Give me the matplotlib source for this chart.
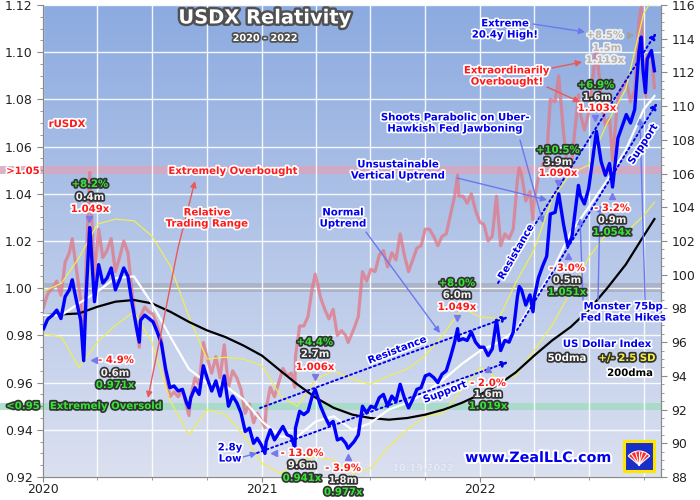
import matplotlib
matplotlib.use("Agg")
import matplotlib.pyplot as plt
import matplotlib.dates as mdates
import matplotlib.patheffects as pe
from matplotlib.patches import Rectangle, Wedge
from matplotlib.transforms import IdentityTransform
from matplotlib.ticker import MultipleLocator, FormatStrFormatter
import numpy as np
import pandas as pd

# USDX closes (weekly, plus a few key days)
usdxDates = [
    "2020-01-02", "2020-01-08", "2020-01-10", "2020-01-17", "2020-01-24", "2020-01-31",
    "2020-02-07", "2020-02-14", "2020-02-19", "2020-02-21", "2020-02-28",
    "2020-03-04", "2020-03-09", "2020-03-13", "2020-03-19", "2020-03-20", "2020-03-27",
    "2020-04-03", "2020-04-10", "2020-04-17", "2020-04-24",
    "2020-05-01", "2020-05-08", "2020-05-15", "2020-05-22", "2020-05-29",
    "2020-06-05", "2020-06-10", "2020-06-12", "2020-06-19", "2020-06-26",
    "2020-07-03", "2020-07-10", "2020-07-17", "2020-07-24", "2020-07-31",
    "2020-08-07", "2020-08-14", "2020-08-21", "2020-08-28",
    "2020-09-01", "2020-09-04", "2020-09-11", "2020-09-18", "2020-09-25",
    "2020-10-02", "2020-10-09", "2020-10-16", "2020-10-23", "2020-10-30",
    "2020-11-06", "2020-11-13", "2020-11-20", "2020-11-27",
    "2020-12-04", "2020-12-11", "2020-12-18", "2020-12-24", "2020-12-31",
    "2021-01-06", "2021-01-08", "2021-01-15", "2021-01-22", "2021-01-29",
    "2021-02-05", "2021-02-12", "2021-02-19", "2021-02-25", "2021-02-26",
    "2021-03-05", "2021-03-12", "2021-03-19", "2021-03-26", "2021-03-31",
    "2021-04-09", "2021-04-16", "2021-04-23", "2021-04-30",
    "2021-05-07", "2021-05-14", "2021-05-21", "2021-05-25",
    "2021-06-04", "2021-06-11", "2021-06-18", "2021-06-25",
    "2021-07-02", "2021-07-09", "2021-07-16", "2021-07-23", "2021-07-30",
    "2021-08-06", "2021-08-13", "2021-08-20", "2021-08-27",
    "2021-09-03", "2021-09-10", "2021-09-17", "2021-09-24",
    "2021-10-01", "2021-10-08", "2021-10-15", "2021-10-22", "2021-10-29",
    "2021-11-05", "2021-11-12", "2021-11-19", "2021-11-24", "2021-11-26",
    "2021-12-03", "2021-12-10", "2021-12-17", "2021-12-24", "2021-12-31",
    "2022-01-07", "2022-01-14", "2022-01-21", "2022-01-28",
    "2022-02-04", "2022-02-11", "2022-02-18", "2022-02-25",
    "2022-03-04", "2022-03-07", "2022-03-11", "2022-03-18", "2022-03-25", "2022-03-30",
    "2022-04-01", "2022-04-08", "2022-04-15", "2022-04-22", "2022-04-28",
    "2022-05-06", "2022-05-12", "2022-05-20", "2022-05-27",
    "2022-06-03", "2022-06-10", "2022-06-14", "2022-06-17", "2022-06-24",
    "2022-07-01", "2022-07-08", "2022-07-14", "2022-07-22", "2022-07-29",
    "2022-08-05", "2022-08-10", "2022-08-19", "2022-08-26",
    "2022-09-02", "2022-09-09", "2022-09-16", "2022-09-23", "2022-09-27", "2022-09-30",
    "2022-10-04", "2022-10-07", "2022-10-14", "2022-10-19",
]
usdxValues = [
    96.8, 97.3, 97.4, 97.6, 97.9, 97.4,
    98.7, 99.1, 99.7, 99.3, 98.1,
    97.3, 94.9, 98.7, 102.8, 102.4, 98.4,
    100.6, 99.5, 99.8, 100.4,
    99.1, 99.7, 100.4, 99.9, 98.3,
    96.9, 96.0, 97.3, 97.6, 97.4,
    97.2, 96.6, 95.9, 94.4, 93.3,
    93.4, 93.1, 93.2, 92.4,
    92.1, 92.7, 93.3, 92.9, 94.6,
    93.8, 93.1, 93.7, 92.8, 94.0,
    92.2, 92.8, 92.4, 91.8,
    90.7, 90.9, 90.0, 90.3, 89.9,
    89.4, 90.1, 90.8, 90.2, 90.6,
    91.0, 90.5, 90.4, 89.7, 90.9,
    91.9, 91.7, 91.9, 92.8, 93.2,
    92.2, 91.6, 91.1, 91.3,
    90.2, 90.3, 90.0, 89.7,
    90.1, 90.5, 92.2, 91.8,
    92.2, 92.1, 92.7, 92.9, 92.2,
    92.8, 92.5, 93.5, 92.7,
    92.1, 92.6, 93.2, 93.3,
    94.0, 94.1, 93.9, 93.6, 94.1,
    94.3, 95.1, 96.0, 96.8, 96.1,
    96.2, 96.1, 96.6, 96.0, 95.7,
    95.7, 95.2, 95.6, 97.3,
    95.5, 96.1, 96.0, 96.6,
    98.7, 99.3, 99.1, 98.2, 98.8, 97.8,
    98.6, 99.8, 100.5, 101.1, 103.6,
    103.7, 104.8, 103.0, 101.7,
    102.2, 104.2, 105.3, 104.7, 104.2,
    105.1, 106.9, 108.5, 106.7, 105.9,
    106.6, 105.2, 108.1, 108.8,
    109.5, 109.0, 109.8, 113.2, 114.1, 112.1,
    110.8, 112.8, 113.3, 112.1,
]
# rUSDX (USDX relative to its 200dma) on the same dates
rusdxValues = [
    0.992, 0.997, 0.998, 1.000, 1.003, 0.997,
    1.011, 1.015, 1.021, 1.017, 1.004,
    0.995, 0.970, 1.009, 1.049, 1.045, 1.004,
    1.025, 1.013, 1.016, 1.021,
    1.007, 1.013, 1.020, 1.015, 0.998,
    0.984, 0.975, 0.988, 0.992, 0.990,
    0.989, 0.984, 0.978, 0.964, 0.954,
    0.956, 0.954, 0.957, 0.950,
    0.946, 0.954, 0.962, 0.959, 0.977,
    0.970, 0.964, 0.971, 0.962, 0.976,
    0.958, 0.965, 0.962, 0.957,
    0.947, 0.951, 0.943, 0.947, 0.944,
    0.941, 0.949, 0.958, 0.954, 0.960,
    0.966, 0.963, 0.964, 0.958, 0.971,
    0.984, 0.984, 0.988, 1.000, 1.006,
    0.996, 0.991, 0.987, 0.991,
    0.980, 0.982, 0.980, 0.977,
    0.983, 0.988, 1.007, 1.003,
    1.008, 1.007, 1.014, 1.016, 1.009,
    1.015, 1.012, 1.023, 1.014,
    1.007, 1.012, 1.017, 1.018,
    1.025, 1.025, 1.022, 1.018, 1.022,
    1.023, 1.031, 1.039, 1.048, 1.039,
    1.039, 1.036, 1.040, 1.033, 1.028,
    1.027, 1.020, 1.022, 1.039,
    1.018, 1.023, 1.021, 1.025,
    1.046, 1.051, 1.048, 1.037, 1.041, 1.029,
    1.037, 1.047, 1.052, 1.056, 1.080,
    1.079, 1.090, 1.066, 1.051,
    1.054, 1.072, 1.082, 1.074, 1.067,
    1.074, 1.089, 1.103, 1.080, 1.069,
    1.072, 1.054, 1.081, 1.085,
    1.088, 1.079, 1.084, 1.113, 1.119, 1.097,
    1.081, 1.099, 1.100, 1.085,
]

# smooth lines, read once a month
maDates = [
    "2020-01-01", "2020-02-01", "2020-03-01", "2020-04-01", "2020-05-01", "2020-06-01",
    "2020-07-01", "2020-08-01", "2020-09-01", "2020-10-01", "2020-11-01", "2020-12-01",
    "2021-01-01", "2021-02-01", "2021-03-01", "2021-04-01", "2021-05-01", "2021-06-01",
    "2021-07-01", "2021-08-01", "2021-09-01", "2021-10-01", "2021-11-01", "2021-12-01",
    "2022-01-01", "2022-02-01", "2022-03-01", "2022-04-01", "2022-05-01", "2022-06-01",
    "2022-07-01", "2022-08-01", "2022-09-01", "2022-10-01", "2022-10-19",
]
dma200Values = [
    97.6, 97.65, 97.7, 98.1, 98.4, 98.5, 98.3, 97.8, 97.2, 96.7, 96.3, 95.8,
    95.2, 94.3, 93.5, 92.7, 92.1, 91.7, 91.5, 91.4, 91.5, 91.7, 92.0, 92.4,
    92.9, 93.5, 94.2, 95.2, 96.1, 96.9, 97.9, 99.2, 100.6, 102.3, 103.3,
]
dma50Values = [
    97.6, 97.6, 98.3, 99.0, 99.8, 99.9, 98.3, 96.3, 94.4, 93.6, 93.4, 92.6,
    91.3, 90.4, 90.4, 91.3, 91.6, 90.8, 91.2, 92.0, 92.4, 93.0, 93.8, 94.7,
    95.5, 96.0, 96.7, 98.5, 100.2, 102.5, 104.0, 105.6, 107.4, 109.8, 110.6,
]
bandUpper = [
    99.0, 99.5, 101.0, 103.0, 103.3, 103.2, 102.3, 100.5, 97.5, 95.0, 95.1, 95.0,
    94.6, 92.8, 92.2, 93.8, 94.3, 93.8, 93.5, 94.0, 94.4, 95.2, 96.5, 98.0,
    97.5, 97.4, 99.5, 101.5, 104.5, 106.0, 106.5, 109.0, 111.0, 115.5, 116.5,
]
bandLower = [
    96.5, 96.3, 94.5, 96.0, 97.0, 97.8, 96.0, 92.5, 90.5, 92.0, 91.7, 90.5,
    88.8, 88.2, 88.9, 89.2, 89.0, 88.2, 88.5, 89.8, 90.8, 91.6, 91.8, 93.2,
    94.5, 93.8, 94.0, 95.5, 97.0, 99.0, 101.0, 102.5, 102.5, 103.5, 104.3,
]

usdxDays = pd.to_datetime(usdxDates)
maDays = pd.to_datetime(maDates)

fig = plt.figure(figsize=(7, 5), dpi=100)
rect = [43 / 700, 23 / 500, 618 / 700, 472 / 500]

# gradient backdrop behind the plot
bg = fig.add_axes(rect, zorder=-1)
top = np.array([0.55, 0.67, 0.88])
bottom = np.array([0.86, 0.88, 0.94])
shade = np.linspace(0, 1, 256)[:, None, None]
bg.imshow(top + (bottom - top) * shade, aspect="auto", extent=[0, 1, 0, 1])
bg.axis("off")

ax = fig.add_axes(rect)
ax.patch.set_visible(False)
ax2 = ax.twinx()

# reference bands
ax.axhspan(1.0483, 1.0517, xmin=-43 / 618, xmax=1, color="#d8a6c0", alpha=0.85, lw=0, clip_on=False, zorder=0.5)
ax.axhspan(0.9484, 0.9515, xmin=-43 / 618, xmax=1, color="#a4dcc4", alpha=0.85, lw=0, clip_on=False, zorder=0.5)
ax.axhspan(0.9982, 1.0020, color="#a9afc4", alpha=0.85, lw=0, zorder=0.5)

ax.plot(usdxDays, rusdxValues, color="#e07a88", lw=2.3, alpha=0.78, zorder=2)

ax2.plot(maDays, bandUpper, color="#eeee55", lw=0.9, zorder=2)
ax2.plot(maDays, bandLower, color="#eeee55", lw=0.9, zorder=2)
ax2.plot(maDays, dma200Values, color="black", lw=1.6, zorder=3)
ax2.plot(maDays, dma50Values, color="white", lw=1.6, zorder=3)
ax2.plot(usdxDays, usdxValues, color="#0000ff", lw=2.4, zorder=4)

# axes, ticks, grid
ax.set_xlim(pd.Timestamp("2020-01-01"), pd.Timestamp("2022-10-30"))
ax.set_ylim(0.92, 1.12)
ax2.set_ylim(88, 116)
ax.yaxis.set_major_locator(MultipleLocator(0.02))
ax.yaxis.set_minor_locator(MultipleLocator(0.005))
ax.yaxis.set_major_formatter(FormatStrFormatter("%.2f"))
ax2.yaxis.set_major_locator(MultipleLocator(2))
ax2.yaxis.set_minor_locator(MultipleLocator(0.5))
ax.xaxis.set_major_locator(mdates.YearLocator())
ax.xaxis.set_major_formatter(mdates.DateFormatter("%Y"))
ax.xaxis.set_minor_locator(mdates.MonthLocator([4, 7, 10]))
ax.grid(axis="y", which="major", color="white", lw=1, alpha=0.9)
ax.grid(axis="x", which="both", color="white", lw=1, alpha=0.9)
ax.set_axisbelow(True)

for a in (ax, ax2):
    a.spines["top"].set_visible(False)
    for side in ("left", "right", "bottom"):
        a.spines[side].set_color("#8a8a8a")
ax.tick_params(axis="both", which="major", length=4, color="#8a8a8a", labelsize=9, labelcolor="#222222")
ax.tick_params(axis="both", which="minor", length=2, color="#8a8a8a")
ax.tick_params(axis="x", which="major", length=3.5, pad=1)
ax2.tick_params(axis="y", which="major", length=4, color="#8a8a8a", labelsize=9, labelcolor="#222222")
ax2.tick_params(axis="y", which="minor", length=2, color="#8a8a8a")


def spot(x, y):
    # picture pixel -> axes fraction
    return ((x - 43) / 618, (477 - y) / 472)


def say(x, y, s, color, edge="white", size=7.3, lw=2.5, **kw):
    fx, fy = spot(x, y)
    ax2.text(fx, fy, s, transform=ax2.transAxes, color=color, fontsize=size,
             fontweight="bold", ha="center", va="center", linespacing=1.15,
             path_effects=[pe.withStroke(linewidth=lw, foreground=edge)],
             clip_on=False, zorder=10, **kw)


def point(x0, y0, x1, y1, color, lw=1.0, ls="-"):
    ax2.annotate("", xy=spot(x1, y1), xytext=spot(x0, y0),
                 xycoords="axes fraction", textcoords="axes fraction",
                 arrowprops=dict(arrowstyle="-|>", color=color, lw=lw, ls=ls,
                                 shrinkA=0, shrinkB=0, mutation_scale=9),
                 zorder=9)


def tip(x, y, m, color="#7777ee"):
    fx, fy = spot(x, y)
    ax2.plot(fx, fy, marker=m, ms=5, color=color, transform=ax2.transAxes,
             clip_on=False, zorder=11)


RED = "#ff1a1a"
BLUE = "#0000ee"
GREEN = "#33e633"
DARK = "#333333"
LIGHT = "#f2f2f2"
FADE = "#b4b4b4"
DOTS = (0, (1, 1.6))

# channel lines
point(260, 408, 508, 317, BLUE, lw=1.4, ls=DOTS)
point(257, 453, 508, 362, BLUE, lw=1.4, ls=DOTS)
point(498, 283, 656, 33, BLUE, lw=1.4, ls=DOTS)
point(517, 330, 657, 103, BLUE, lw=1.4, ls=DOTS)

# callout arrows
point(178, 248, 195, 181, "#e85a5a")
point(178, 248, 148, 398, "#e85a5a")
point(366, 232, 440, 333, "#6a78f0")
point(457, 178, 547, 200, "#6a78f0")
point(520, 140, 543, 223, "#6a78f0")
point(533, 24, 585, 32, "#6a78f0")
point(552, 68, 582, 62, "#e85a5a")
point(547, 87, 580, 102, "#e85a5a")
point(583, 300, 580, 218, "#6a78f0")
point(598, 300, 600, 205, "#6a78f0")
point(645, 300, 640, 118, "#6a78f0")
point(243, 457, 257, 453, "#6a78f0")

say(265, 18, "USDX Relativity", "white", edge="#505050", size=14, lw=3.5)
say(265, 38, "2020 - 2022", "white", edge="#505050", size=7, lw=2.5)
say(67, 124, "rUSDX", RED)
say(23, 171, ">1.05", RED)
say(233, 171, "Extremely Overbought", RED)
say(207, 218, "Relative\nTrading Range", RED)
say(23, 406, "<0.95", GREEN, edge=DARK)
say(106, 406, "Extremely Oversold", GREEN, edge=DARK)
say(343, 218, "Normal\nUptrend", BLUE)
say(398, 170, "Unsustainable\nVertical Uptrend", BLUE)
say(455, 123, "Shoots Parabolic on Uber-\nHawkish Fed Jawboning", BLUE)
say(505, 29, "Extreme\n20.4y High!", BLUE)
say(507, 76, "Extraordinarily\nOverbought!", RED)
say(230, 453, "2.8y\nLow", BLUE)
say(623, 312, "Monster 75bp\nFed Rate Hikes", BLUE)
say(397, 350, "Resistance", BLUE, rotation=21)
say(445, 392, "Support", BLUE, rotation=21)
say(516, 252, "Resistance", BLUE, rotation=60)
say(643, 144, "Support", BLUE, rotation=57)
say(607, 344, "US Dollar Index", BLUE)
say(567, 358, "50dma", "white", edge=DARK)
say(627, 358, "+/- 2.5 SD", "#f4f03a", edge=DARK)
say(630, 373, "200dma", "black", edge="white")
say(538, 458, "www.ZealLLC.com", BLUE, size=10.3, lw=3)
say(423, 468, "10.19.2022", "#e6eaf6", edge="#c8d0e4", size=7, lw=0.5)

# move callouts: percent, duration, relative level
say(90, 184, "+8.2%", GREEN, edge=DARK)
say(90, 197, "0.4m", LIGHT, edge=DARK)
say(90, 209, "1.049x", RED)
tip(89, 219, "v")
say(116, 360, "- 4.9%", RED)
say(115, 373, "0.6m", LIGHT, edge=DARK)
say(115, 385, "0.971x", GREEN, edge=DARK)
tip(94, 360, "<")
say(315, 342, "+4.4%", GREEN, edge=DARK)
say(315, 354, "2.7m", LIGHT, edge=DARK)
say(315, 367, "1.006x", RED)
tip(315, 377, "v")
say(302, 453, "- 13.0%", RED)
say(302, 465, "9.6m", LIGHT, edge=DARK)
say(302, 478, "0.941x", GREEN, edge=DARK)
tip(274, 453, "<")
say(343, 468, "- 3.9%", RED)
say(343, 480, "1.8m", LIGHT, edge=DARK)
say(343, 492, "0.977x", GREEN, edge=DARK)
tip(348, 457, "^")
say(457, 283, "+8.0%", GREEN, edge=DARK)
say(457, 295, "6.0m", LIGHT, edge=DARK)
say(457, 307, "1.049x", RED)
tip(457, 318, "v")
say(488, 383, "- 2.0%", RED)
say(488, 394, "1.6m", LIGHT, edge=DARK)
say(488, 406, "1.019x", GREEN, edge=DARK)
tip(488, 369, "^")
say(558, 150, "+10.5%", GREEN, edge=DARK)
say(558, 162, "3.9m", LIGHT, edge=DARK)
say(558, 173, "1.090x", RED)
tip(558, 183, "v")
say(567, 268, "- 3.0%", RED)
say(567, 280, "0.5m", LIGHT, edge=DARK)
say(567, 292, "1.051x", GREEN, edge=DARK)
tip(568, 256, "^")
say(596, 85, "+6.9%", GREEN, edge=DARK)
say(597, 97, "1.6m", LIGHT, edge=DARK)
say(597, 108, "1.103x", RED)
tip(595, 118, "v")
say(612, 208, "- 3.2%", RED)
say(612, 220, "0.9m", LIGHT, edge=DARK)
say(612, 232, "1.054x", GREEN, edge=DARK)
tip(612, 196, "^")
say(605, 35, "+8.5%", FADE, edge="#eeeeee")
say(607, 48, "1.5m", FADE, edge="#eeeeee")
say(605, 60, "1.119x", FADE, edge="#eeeeee")
tip(630, 35, ">", color="#a0a0a0")

# logo
px = IdentityTransform()
fig.patches.append(Rectangle((624, 500 - 471), 30, 30, fc="#1a2fc8", ec="#ffe600", lw=2.2,
                             transform=px, zorder=20))
fig.patches.append(Wedge((639, 500 - 465), 14, 40, 140, fc="#ff2a2a", ec="white", lw=0.8,
                         transform=px, zorder=21))
for ang in np.radians([55, 75, 90, 105, 125]):
    fig.lines.append(plt.Line2D([639, 639 + 13 * np.cos(ang)], [35, 35 + 13 * np.sin(ang)],
                                color="white", lw=0.8, transform=px, zorder=22))

fig.savefig("out.png", dpi=100)
